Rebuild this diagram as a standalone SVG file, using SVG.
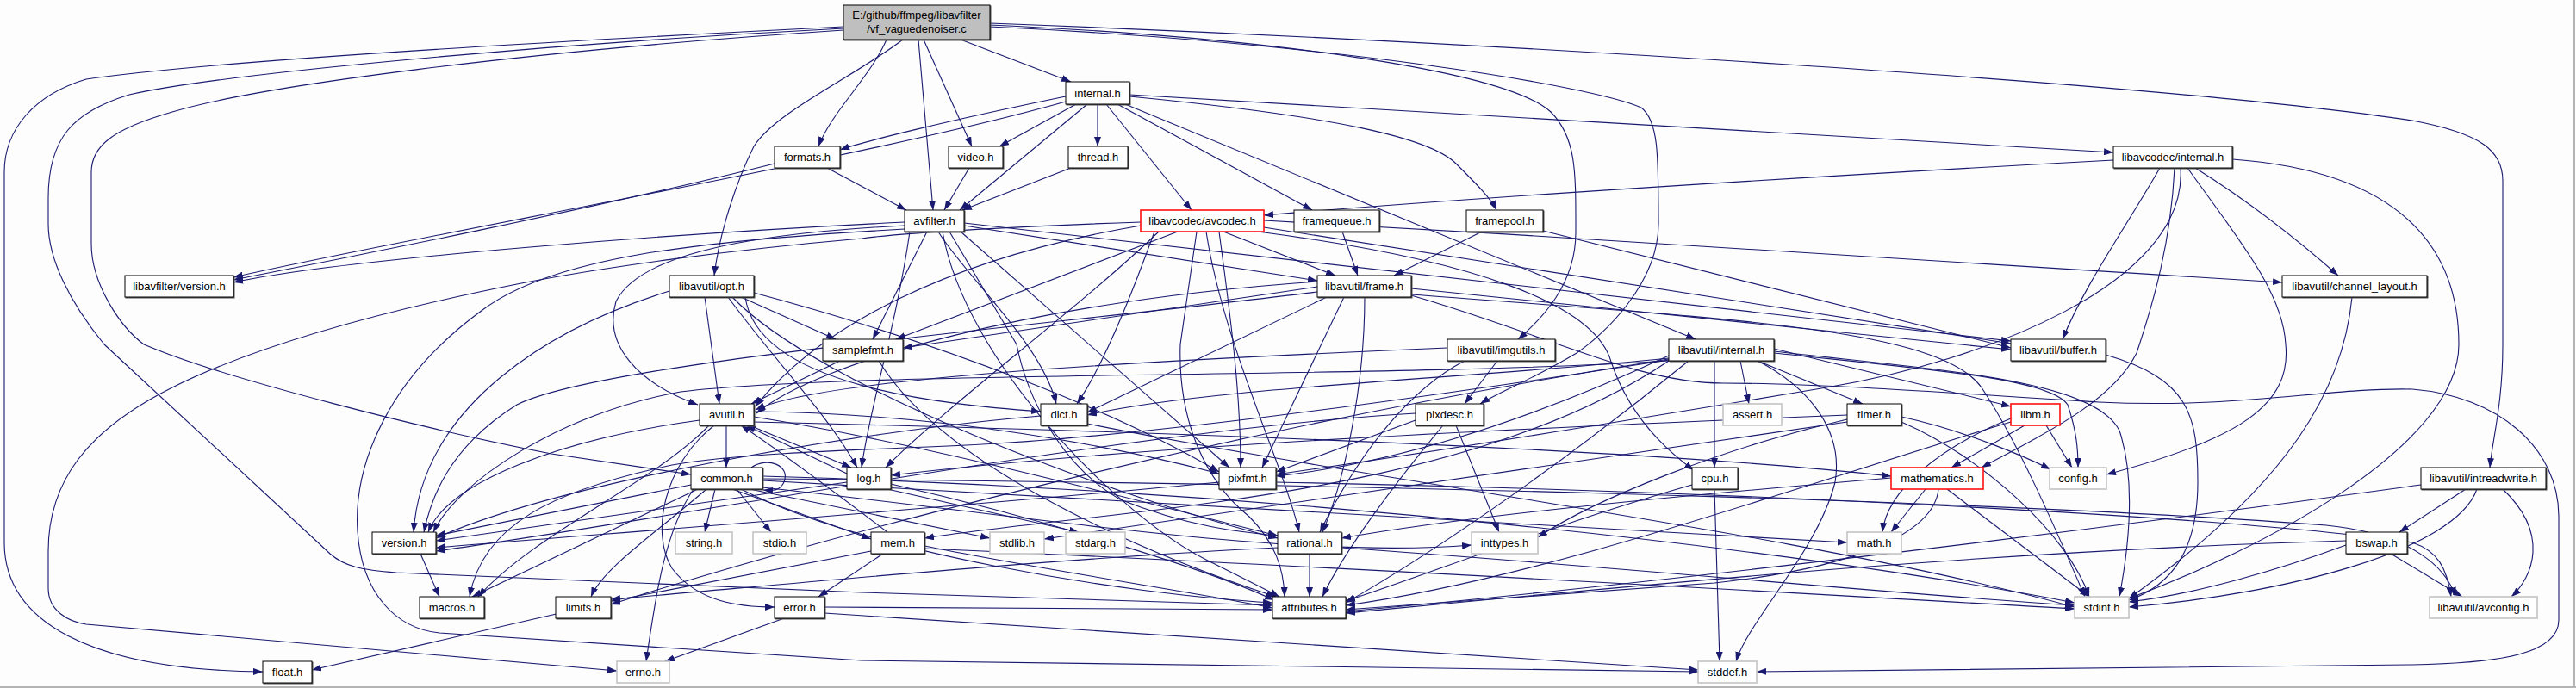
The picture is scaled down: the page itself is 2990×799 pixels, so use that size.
<svg xmlns="http://www.w3.org/2000/svg" width="2990" height="799" viewBox="0 0 2990 799">
<defs>
<marker id="a" viewBox="0 0 11 8" refX="11" refY="4" markerWidth="11" markerHeight="8" markerUnits="userSpaceOnUse" orient="auto"><path d="M0,0 L11,4 L0,8 z" fill="#191970"/></marker>
</defs>
<style>
.e{fill:none;stroke:#191970;stroke-width:1.1;marker-end:url(#a)}
.n rect{fill:#ffffff;stroke:#000000;stroke-width:1}
.n rect.s,.rt rect.s{fill:#555555;stroke:#555555;stroke-width:1}
.g rect{fill:#ffffff;stroke:#c4c4c4;stroke-width:1.6}
.r rect{fill:#ffffff;stroke:#ff1010;stroke-width:1.6}
.rt rect{fill:#bfbfbf;stroke:#000000;stroke-width:1}
text{font-family:"Liberation Sans",Arial,sans-serif;font-size:13px;fill:#000000;text-anchor:middle}
</style>
<rect x="0" y="0" width="2990" height="799" fill="#fcfdfc"/>
<line x1="2988" y1="0" x2="2988" y2="799" stroke="#b4b4b4" stroke-width="2"/>
<line x1="0" y1="798" x2="2990" y2="798" stroke="#b4b4b4" stroke-width="2"/>
<g id="connectors">
<path class="e" d="M979,31 C700,45 250,70 100,92 C40,110 5,150 5,200 L5,630 C5,720 100,778 305,780"/>
<path class="e" d="M979,33 C650,50 260,85 150,110 C85,130 56,160 56,230 L56,260 C56,300 80,350 121,400 L383,643 C400,658 420,662 460,665 L1000,688 L1477,703"/>
<path class="e" d="M979,35 C600,60 300,100 200,130 C130,150 106,170 106,200 L106,283 C106,330 140,380 167,400 C260,440 500,500 640,527 L802,551"/>
<path class="e" d="M1029,46 C1010,90 965,130 950,170"/>
<path class="e" d="M1048,46 C990,90 900,130 875,170 C855,210 835,270 829,320"/>
<path class="e" d="M1066,46 L1083,244"/>
<path class="e" d="M1072,46 L1128,170"/>
<path class="e" d="M1115,46 L1243,95"/>
<path class="e" d="M1149,27 C1700,48 2500,95 2800,140 C2880,155 2905,175 2905,210 L2905,400 C2905,470 2893,510 2890,543"/>
<path class="e" d="M1149,29 C1500,45 1750,85 1800,130 C1830,160 1829,200 1829,270 C1829,330 1790,370 1762,394"/>
<path class="e" d="M1149,31 C1550,50 1850,100 1905,125 C1925,140 1925,180 1925,260 C1925,330 1860,390 1830,410 C1780,440 1740,455 1718,469"/>
<path class="e" d="M1237,112 C1100,140 1000,165 975,174"/>
<path class="e" d="M1237,118 C1000,185 500,270 271,322"/>
<path class="e" d="M1249,121 L1160,170"/>
<path class="e" d="M1262,121 L1114,244"/>
<path class="e" d="M1274,121 L1274,170"/>
<path class="e" d="M1284,121 L1383,244"/>
<path class="e" d="M1297,121 L1523,244"/>
<path class="e" d="M1306,121 L1968,394"/>
<path class="e" d="M1311,112 C1550,135 1660,160 1690,190 C1715,215 1730,230 1737,244"/>
<path class="e" d="M1311,110 C1800,140 2200,160 2453,177"/>
<path class="e" d="M960,195 L1052,244"/>
<path class="e" d="M899,190 C700,240 400,300 271,325"/>
<path class="e" d="M1125,195 L1096,244"/>
<path class="e" d="M1243,195 L1117,244"/>
<path class="e" d="M1050,258 C800,270 400,300 271,328"/>
<path class="e" d="M1050,262 C850,272 740,300 715,350 C700,400 740,445 810,470"/>
<path class="e" d="M1076,269 L1013,394"/>
<path class="e" d="M1089,269 C1120,320 1210,400 1226,469"/>
<path class="e" d="M1102,269 L1180,400 C1192,460 1230,540 1300,580 C1380,612 1440,618 1483,622"/>
<path class="e" d="M1115,269 L1427,543"/>
<path class="e" d="M1119,262 L1529,326"/>
<path class="e" d="M1119,259 L2334,396"/>
<path class="e" d="M1056,269 C1040,380 1010,470 1000,543"/>
<path class="e" d="M1094,269 C1120,420 1300,600 1400,650 C1440,670 1470,685 1485,693"/>
<path class="e" d="M1050,266 C800,280 640,300 560,360 C450,440 410,540 415,617 C420,690 460,730 510,735 L1000,767 L1971,780"/>
<path class="e" d="M1324,258 C1200,262 1050,270 1000,277 C850,290 700,310 600,330 C450,360 300,400 200,450 C100,500 56,560 56,640 L56,683 C56,710 80,722 100,725 L716,779"/>
<path class="e" d="M1367,269 L1040,394"/>
<path class="e" d="M1389,269 L1370,400 C1367,490 1400,560 1450,600 C1480,630 1490,660 1491,693"/>
<path class="e" d="M1324,262 C1100,300 950,380 877,472"/>
<path class="e" d="M1467,264 L2334,399"/>
<path class="e" d="M1460,269 C1700,300 1850,350 1870,420 C1890,480 1930,520 1966,546"/>
<path class="e" d="M1467,256 C1900,280 2400,310 2649,328"/>
<path class="e" d="M1340,269 C1300,380 1270,440 1250,469"/>
<path class="e" d="M1420,269 L1550,320"/>
<path class="e" d="M1345,269 C1250,360 1100,470 1028,543"/>
<path class="e" d="M1415,269 C1430,380 1440,460 1440,543"/>
<path class="e" d="M1400,269 C1420,400 1490,540 1508,618"/>
<path class="e" d="M2453,186 C2100,205 1700,230 1467,250"/>
<path class="e" d="M2507,195 C2470,260 2420,330 2394,394"/>
<path class="e" d="M2524,195 C2520,280 2500,350 2480,410 C2450,470 2360,510 2300,543"/>
<path class="e" d="M2531,195 C2540,330 2300,420 2120,450 C2000,470 1700,520 1481,551"/>
<path class="e" d="M2548,195 C2620,240 2680,290 2714,320"/>
<path class="e" d="M2539,195 C2600,280 2650,340 2653,400 C2660,470 2600,510 2445,551"/>
<path class="e" d="M2591,185 C2800,200 2854,300 2854,400 C2854,520 2620,640 2471,695"/>
<path class="e" d="M1558,269 L1576,320"/>
<path class="e" d="M1720,269 L1618,320"/>
<path class="e" d="M1791,268 L2334,404"/>
<path class="e" d="M1529,327 C1200,350 950,420 878,480"/>
<path class="e" d="M1638,335 L2334,406"/>
<path class="e" d="M1540,345 L1262,479"/>
<path class="e" d="M1584,345 C1584,450 1560,560 1535,618"/>
<path class="e" d="M1529,333 L1048,404"/>
<path class="e" d="M1560,345 L1465,543"/>
<path class="e" d="M1529,339 C1200,380 700,420 600,470 C520,520 500,580 492,618"/>
<path class="e" d="M1638,342 C2000,370 2250,380 2300,450 C2340,510 2380,600 2420,693"/>
<path class="e" d="M1638,343 C1800,390 1900,445 2000,445 C2100,445 2250,455 2436,467 C2600,475 2700,450 2800,452 C2900,460 2970,520 2970,600 L2970,720 C2970,760 2900,770 2800,772 L2039,780"/>
<path class="e" d="M850,345 C950,450 1300,580 1483,625"/>
<path class="e" d="M818,345 L835,469"/>
<path class="e" d="M865,345 C880,450 1100,470 1208,478"/>
<path class="e" d="M845,345 C900,420 960,480 995,543"/>
<path class="e" d="M875,340 C1100,400 1300,480 1415,548"/>
<path class="e" d="M860,345 L970,394"/>
<path class="e" d="M777,338 C640,380 490,470 480,618"/>
<path class="e" d="M975,419 L872,469"/>
<path class="e" d="M1020,419 C1100,550 1350,650 1481,693"/>
<path class="e" d="M1738,419 L1700,469"/>
<path class="e" d="M1700,419 C1640,450 1580,520 1532,618"/>
<path class="e" d="M1680,404 C1300,420 950,440 877,476"/>
<path class="e" d="M1937,417 C1400,500 900,640 709,702"/>
<path class="e" d="M2059,408 C2250,430 2430,440 2460,500 C2480,560 2470,640 2460,693"/>
<path class="e" d="M2040,419 C2100,450 2140,500 2130,560 C2110,640 2030,720 2015,768"/>
<path class="e" d="M2020,419 L2030,469"/>
<path class="e" d="M2059,410 C2250,430 2380,440 2400,470 C2410,500 2412,520 2412,543"/>
<path class="e" d="M1960,419 C1800,550 1650,650 1562,700"/>
<path class="e" d="M2040,419 L2162,469"/>
<path class="e" d="M1990,419 L1990,543"/>
<path class="e" d="M1937,416 C1700,440 1400,450 1262,482"/>
<path class="e" d="M1937,418 C1600,470 1300,510 1100,518 C950,524 850,528 780,540 C640,570 560,610 545,693"/>
<path class="e" d="M1937,419 C1700,580 1300,590 1073,625"/>
<path class="e" d="M1937,413 C1750,500 1600,540 1481,553"/>
<path class="e" d="M1937,419 C1600,440 1000,430 790,455 C650,480 530,560 503,618"/>
<path class="e" d="M2059,405 L2334,472"/>
<path class="e" d="M2444,412 C2540,440 2551,480 2551,560 C2551,640 2520,680 2471,697"/>
<path class="e" d="M2730,345 C2720,450 2660,560 2471,695"/>
<path class="e" d="M843,494 L843,543"/>
<path class="e" d="M829,494 C770,540 755,620 780,660 C810,700 860,705 899,705"/>
<path class="e" d="M875,484 C1100,520 1350,590 1483,622"/>
<path class="e" d="M812,488 C650,510 520,560 497,618"/>
<path class="e" d="M823,494 C760,560 620,620 555,693"/>
<path class="e" d="M875,490 C1300,500 1900,520 2195,553"/>
<path class="e" d="M870,494 L988,543"/>
<path class="e" d="M875,478 C1100,480 1300,520 1415,550"/>
<path class="e" d="M805,568 C770,620 760,700 750,768"/>
<path class="e" d="M885,566 C1200,600 1500,650 1708,633"/>
<path class="e" d="M820,568 C760,620 700,660 686,693"/>
<path class="e" d="M885,558 C1400,590 1900,620 2144,630"/>
<path class="e" d="M885,553 C1500,570 2100,640 2408,700"/>
<path class="e" d="M855,568 L895,618"/>
<path class="e" d="M870,568 L1149,625"/>
<path class="e" d="M830,568 L818,618"/>
<path class="e" d="M860,568 C1000,640 1300,690 1477,700"/>
<path class="e" d="M810,568 L548,693"/>
<path class="e" d="M802,563 L506,622"/>
<path class="e" d="M885,556 C1500,560 2300,580 2700,610 C2800,620 2840,660 2850,693"/>
<path class="e" d="M850,568 L1011,626"/>
<path class="e" d="M872,543 C890,530 918,540 910,560 C905,570 898,570 886,569"/>
<path class="e" d="M1030,568 L1252,618"/>
<path class="e" d="M983,550 L866,494"/>
<path class="e" d="M1034,562 C1200,600 1400,660 1479,697"/>
<path class="e" d="M983,560 L506,628"/>
<path class="e" d="M1481,560 C2000,570 2600,600 2800,630 C2830,640 2840,660 2845,693"/>
<path class="e" d="M1415,560 C1100,590 700,620 506,636"/>
<path class="e" d="M1690,494 L1740,618"/>
<path class="e" d="M1675,494 C1620,560 1560,640 1535,693"/>
<path class="e" d="M1643,488 L1481,548"/>
<path class="e" d="M1643,480 C1300,500 800,600 506,640"/>
<path class="e" d="M1262,492 C1600,560 2100,620 2408,705"/>
<path class="e" d="M1208,483 C1000,500 650,560 506,625"/>
<path class="e" d="M2207,484 C2280,500 2350,530 2380,545"/>
<path class="e" d="M2207,490 C2300,530 2400,620 2425,693"/>
<path class="e" d="M2144,487 C2000,520 1850,580 1785,624"/>
<path class="e" d="M2144,482 C1700,500 1300,520 1034,552"/>
<path class="e" d="M2144,490 C1800,540 1400,600 1212,626"/>
<path class="e" d="M2375,494 L2405,543"/>
<path class="e" d="M2334,486 C2250,520 2190,570 2185,618"/>
<path class="e" d="M2334,490 C2100,560 1800,670 1562,703"/>
<path class="e" d="M2350,494 L2265,543"/>
<path class="e" d="M1990,568 L1996,768"/>
<path class="e" d="M1964,563 C1800,610 1650,670 1562,698"/>
<path class="e" d="M2260,568 L2425,693"/>
<path class="e" d="M2235,568 L2195,618"/>
<path class="e" d="M2250,568 C2245,620 2150,660 1990,677 L1562,708"/>
<path class="e" d="M2195,555 C1900,580 1700,600 1557,625"/>
<path class="e" d="M2862,568 L2785,618"/>
<path class="e" d="M2875,568 C2850,640 2650,690 2471,705"/>
<path class="e" d="M2905,568 C2960,620 2940,670 2915,693"/>
<path class="e" d="M2810,563 C2400,620 1900,680 1562,710"/>
<path class="e" d="M488,643 L510,693"/>
<path class="e" d="M1011,640 L709,698"/>
<path class="e" d="M1073,637 C1600,660 2100,690 2408,707"/>
<path class="e" d="M1073,634 C1200,660 1400,690 1477,706"/>
<path class="e" d="M1025,643 L950,693"/>
<path class="e" d="M1030,618 C980,580 900,520 860,494"/>
<path class="e" d="M1557,636 C1900,660 2200,690 2408,703"/>
<path class="e" d="M1483,636 C1200,650 900,680 709,696"/>
<path class="e" d="M1520,643 L1520,693"/>
<path class="e" d="M2723,633 C2650,660 2550,690 2471,699"/>
<path class="e" d="M2775,643 L2858,693"/>
<path class="e" d="M2723,628 C2300,640 1900,680 1562,712"/>
<path class="e" d="M650,712 L362,778"/>
<path class="e" d="M910,718 L772,768"/>
<path class="e" d="M957,712 L1971,778"/>
<path class="e" d="M957,705 L1477,708"/>
</g>
<g id="nodes">
<g id="n_root" class="rt"><rect class="s" x="980" y="7" width="170" height="40"/><rect x="979" y="6" width="170" height="40"/><text x="1064" y="22">E:/github/ffmpeg/libavfilter</text><text x="1064" y="38">/vf_vaguedenoiser.c</text></g>
<g id="n_internal" class="n"><rect class="s" x="1238" y="96" width="74" height="26"/><rect x="1237" y="95" width="74" height="26"/><text x="1274" y="113">internal.h</text></g>
<g id="n_formats" class="n"><rect class="s" x="900" y="171" width="76" height="25"/><rect x="899" y="170" width="76" height="25"/><text x="937" y="187">formats.h</text></g>
<g id="n_video" class="n"><rect class="s" x="1102" y="171" width="63" height="25"/><rect x="1101" y="170" width="63" height="25"/><text x="1132.5" y="187">video.h</text></g>
<g id="n_thread" class="n"><rect class="s" x="1241" y="171" width="69" height="25"/><rect x="1240" y="170" width="69" height="25"/><text x="1274.5" y="187">thread.h</text></g>
<g id="n_lavc_internal" class="n"><rect class="s" x="2454" y="171" width="138" height="25"/><rect x="2453" y="170" width="138" height="25"/><text x="2522" y="187">libavcodec/internal.h</text></g>
<g id="n_avfilter" class="n"><rect class="s" x="1051" y="245" width="69" height="25"/><rect x="1050" y="244" width="69" height="25"/><text x="1084.5" y="261">avfilter.h</text></g>
<g id="n_avcodec" class="r"><rect x="1324" y="244" width="143" height="25"/><text x="1395.5" y="261">libavcodec/avcodec.h</text></g>
<g id="n_framequeue" class="n"><rect class="s" x="1503" y="245" width="99" height="25"/><rect x="1502" y="244" width="99" height="25"/><text x="1551.5" y="261">framequeue.h</text></g>
<g id="n_framepool" class="n"><rect class="s" x="1703" y="245" width="89" height="25"/><rect x="1702" y="244" width="89" height="25"/><text x="1746.5" y="261">framepool.h</text></g>
<g id="n_lavf_version" class="n"><rect class="s" x="146" y="321" width="126" height="25"/><rect x="145" y="320" width="126" height="25"/><text x="208" y="337">libavfilter/version.h</text></g>
<g id="n_opt" class="n"><rect class="s" x="778" y="321" width="98" height="25"/><rect x="777" y="320" width="98" height="25"/><text x="826" y="337">libavutil/opt.h</text></g>
<g id="n_frame" class="n"><rect class="s" x="1530" y="321" width="109" height="25"/><rect x="1529" y="320" width="109" height="25"/><text x="1583.5" y="337">libavutil/frame.h</text></g>
<g id="n_channel_layout" class="n"><rect class="s" x="2650" y="321" width="168" height="25"/><rect x="2649" y="320" width="168" height="25"/><text x="2733" y="337">libavutil/channel_layout.h</text></g>
<g id="n_samplefmt" class="n"><rect class="s" x="956" y="395" width="93" height="25"/><rect x="955" y="394" width="93" height="25"/><text x="1001.5" y="411">samplefmt.h</text></g>
<g id="n_imgutils" class="n"><rect class="s" x="1681" y="395" width="125" height="25"/><rect x="1680" y="394" width="125" height="25"/><text x="1742.5" y="411">libavutil/imgutils.h</text></g>
<g id="n_lavu_internal" class="n"><rect class="s" x="1938" y="395" width="122" height="25"/><rect x="1937" y="394" width="122" height="25"/><text x="1998" y="411">libavutil/internal.h</text></g>
<g id="n_buffer" class="n"><rect class="s" x="2335" y="395" width="110" height="25"/><rect x="2334" y="394" width="110" height="25"/><text x="2389" y="411">libavutil/buffer.h</text></g>
<g id="n_avutil" class="n"><rect class="s" x="813" y="470" width="63" height="25"/><rect x="812" y="469" width="63" height="25"/><text x="843.5" y="486">avutil.h</text></g>
<g id="n_dict" class="n"><rect class="s" x="1209" y="470" width="54" height="25"/><rect x="1208" y="469" width="54" height="25"/><text x="1235" y="486">dict.h</text></g>
<g id="n_pixdesc" class="n"><rect class="s" x="1644" y="470" width="79" height="25"/><rect x="1643" y="469" width="79" height="25"/><text x="1682.5" y="486">pixdesc.h</text></g>
<g id="n_assert" class="g"><rect x="2000" y="469" width="68" height="25"/><text x="2034" y="486">assert.h</text></g>
<g id="n_timer" class="n"><rect class="s" x="2145" y="470" width="63" height="25"/><rect x="2144" y="469" width="63" height="25"/><text x="2175.5" y="486">timer.h</text></g>
<g id="n_libm" class="r"><rect x="2334" y="469" width="57" height="25"/><text x="2362.5" y="486">libm.h</text></g>
<g id="n_common" class="n"><rect class="s" x="803" y="544" width="83" height="25"/><rect x="802" y="543" width="83" height="25"/><text x="843.5" y="560">common.h</text></g>
<g id="n_log" class="n"><rect class="s" x="984" y="544" width="51" height="25"/><rect x="983" y="543" width="51" height="25"/><text x="1008.5" y="560">log.h</text></g>
<g id="n_pixfmt" class="n"><rect class="s" x="1416" y="544" width="66" height="25"/><rect x="1415" y="543" width="66" height="25"/><text x="1448" y="560">pixfmt.h</text></g>
<g id="n_cpu" class="n"><rect class="s" x="1965" y="544" width="53" height="25"/><rect x="1964" y="543" width="53" height="25"/><text x="1990.5" y="560">cpu.h</text></g>
<g id="n_mathematics" class="r"><rect x="2195" y="543" width="107" height="25"/><text x="2248.5" y="560">mathematics.h</text></g>
<g id="n_config" class="g"><rect x="2379" y="543" width="66" height="25"/><text x="2412" y="560">config.h</text></g>
<g id="n_intreadwrite" class="n"><rect class="s" x="2811" y="544" width="145" height="25"/><rect x="2810" y="543" width="145" height="25"/><text x="2882.5" y="560">libavutil/intreadwrite.h</text></g>
<g id="n_version" class="n"><rect class="s" x="433" y="619" width="74" height="25"/><rect x="432" y="618" width="74" height="25"/><text x="469" y="635">version.h</text></g>
<g id="n_string" class="g"><rect x="784" y="618" width="66" height="25"/><text x="817" y="635">string.h</text></g>
<g id="n_stdio" class="g"><rect x="874" y="618" width="62" height="25"/><text x="905" y="635">stdio.h</text></g>
<g id="n_mem" class="n"><rect class="s" x="1012" y="619" width="62" height="25"/><rect x="1011" y="618" width="62" height="25"/><text x="1042" y="635">mem.h</text></g>
<g id="n_stdlib" class="g"><rect x="1149" y="618" width="63" height="25"/><text x="1180.5" y="635">stdlib.h</text></g>
<g id="n_stdarg" class="g"><rect x="1237" y="618" width="69" height="25"/><text x="1271.5" y="635">stdarg.h</text></g>
<g id="n_rational" class="n"><rect class="s" x="1484" y="619" width="74" height="25"/><rect x="1483" y="618" width="74" height="25"/><text x="1520" y="635">rational.h</text></g>
<g id="n_inttypes" class="g"><rect x="1708" y="618" width="77" height="25"/><text x="1746.5" y="635">inttypes.h</text></g>
<g id="n_math" class="g"><rect x="2144" y="618" width="63" height="25"/><text x="2175.5" y="635">math.h</text></g>
<g id="n_bswap" class="n"><rect class="s" x="2724" y="619" width="71" height="25"/><rect x="2723" y="618" width="71" height="25"/><text x="2758.5" y="635">bswap.h</text></g>
<g id="n_macros" class="n"><rect class="s" x="488" y="694" width="75" height="25"/><rect x="487" y="693" width="75" height="25"/><text x="524.5" y="710">macros.h</text></g>
<g id="n_limits" class="n"><rect class="s" x="646" y="694" width="64" height="25"/><rect x="645" y="693" width="64" height="25"/><text x="677" y="710">limits.h</text></g>
<g id="n_error" class="n"><rect class="s" x="900" y="694" width="58" height="25"/><rect x="899" y="693" width="58" height="25"/><text x="928" y="710">error.h</text></g>
<g id="n_attributes" class="n"><rect class="s" x="1478" y="694" width="85" height="25"/><rect x="1477" y="693" width="85" height="25"/><text x="1519.5" y="710">attributes.h</text></g>
<g id="n_stdint" class="g"><rect x="2408" y="693" width="63" height="25"/><text x="2439.5" y="710">stdint.h</text></g>
<g id="n_avconfig" class="g"><rect x="2820" y="693" width="125" height="25"/><text x="2882.5" y="710">libavutil/avconfig.h</text></g>
<g id="n_float" class="n"><rect class="s" x="306" y="769" width="57" height="25"/><rect x="305" y="768" width="57" height="25"/><text x="333.5" y="785">float.h</text></g>
<g id="n_errno" class="g"><rect x="716" y="768" width="61" height="25"/><text x="746.5" y="785">errno.h</text></g>
<g id="n_stddef" class="g"><rect x="1971" y="768" width="68" height="25"/><text x="2005" y="785">stddef.h</text></g>
</g>
</svg>
